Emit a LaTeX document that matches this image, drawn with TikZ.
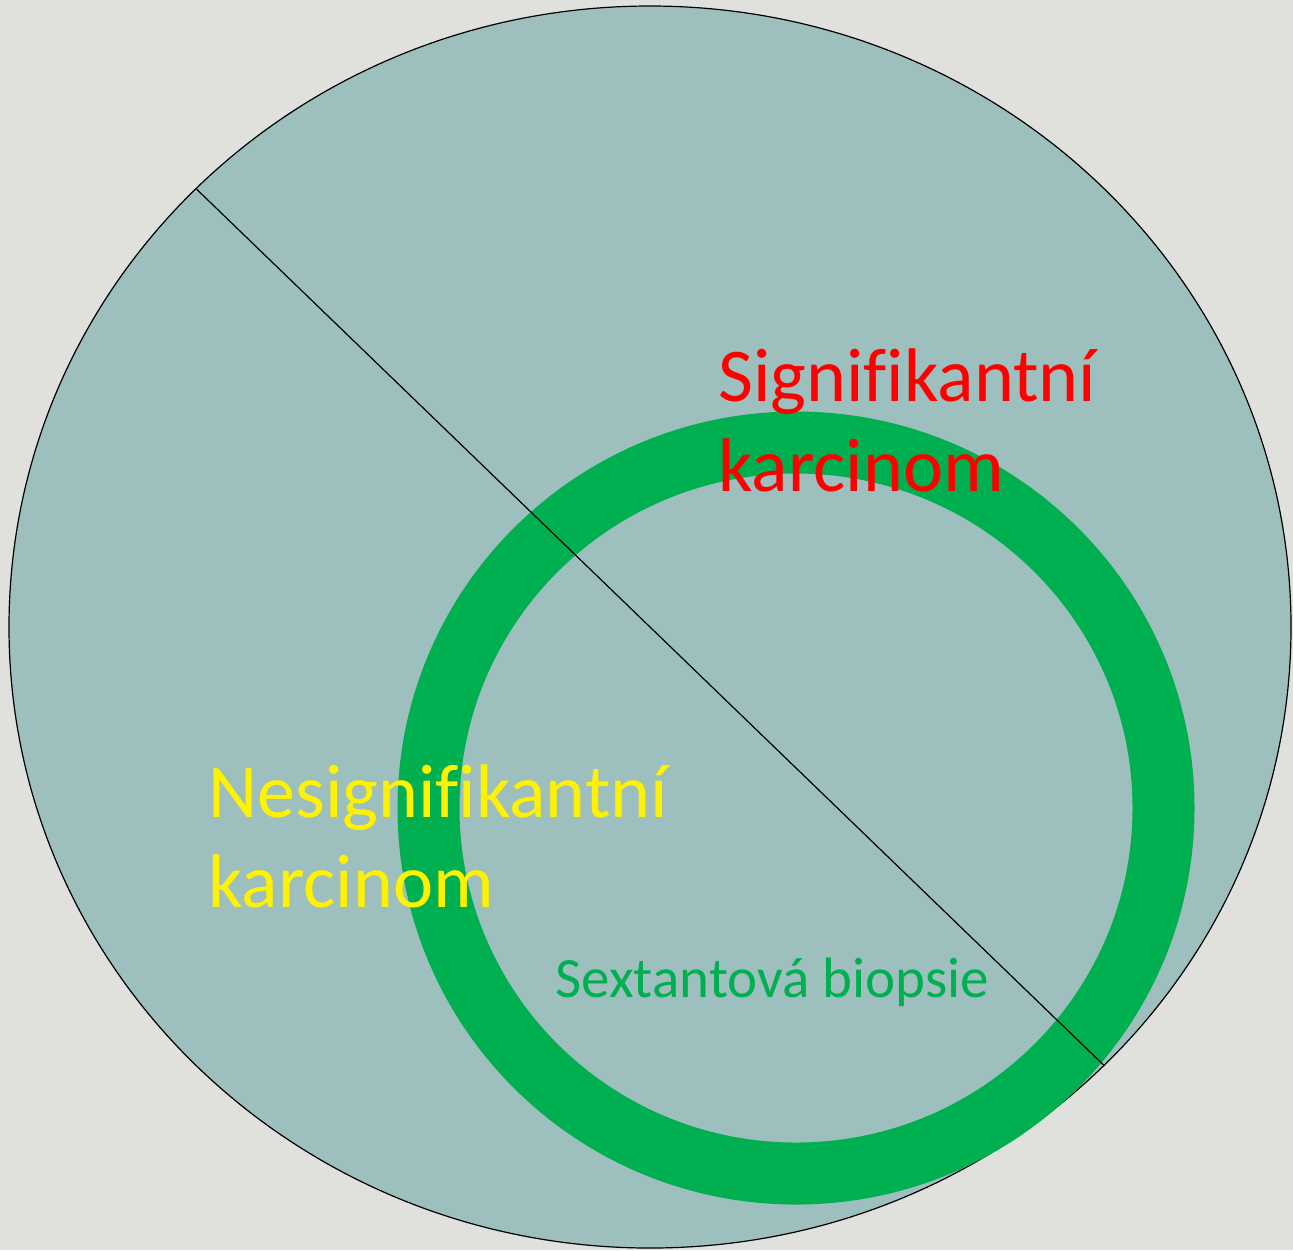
\documentclass[tikz,border=0pt]{standalone}
\usepackage{fontspec}
\setmainfont{Carlito}[Ligatures=NoCommon]
\usetikzlibrary{positioning,shapes.geometric}
\definecolor{bgray}{HTML}{E0E1DC}
\definecolor{gland}{HTML}{9DBFBE}
\definecolor{biopgreen}{HTML}{00B050}
\tikzset{zone/.style={anchor=base west,inner sep=0pt,align=left,font=\fontsize{38}{45}\selectfont}}
\begin{document}
\begin{tikzpicture}[x=0.5pt,y=-0.5pt]
    \fill[bgray] (0,0) rectangle (1293,1250);
    \useasboundingbox (0,0) rectangle (1293,1250);

    \node[ellipse,draw,fill=gland,line width=0.6pt,inner sep=0pt,
          minimum width=641pt,minimum height=621pt] (prostate) at (650,627) {};
    \node[ellipse,draw=biopgreen,line width=31pt,inner sep=0pt,
          minimum width=367.5pt,minimum height=365.5pt] (sextant) at (796,808) {};
    \draw[line width=0.6pt] (prostate.136) -- (prostate.-44);

    % base = last line
    \node[zone,text=red] (sig) at (718,491) {Signifikantní\\karcinom};
    \node[zone,text=yellow] (nesig) at (208,907) {Nesignifikantní\\karcinom};
    \node[anchor=base west,inner sep=0pt,text=biopgreen,
          font=\fontsize{28.5}{34}\selectfont] (biopsy) at (555,997) {Sextantová biopsie};
\end{tikzpicture}
\end{document}
